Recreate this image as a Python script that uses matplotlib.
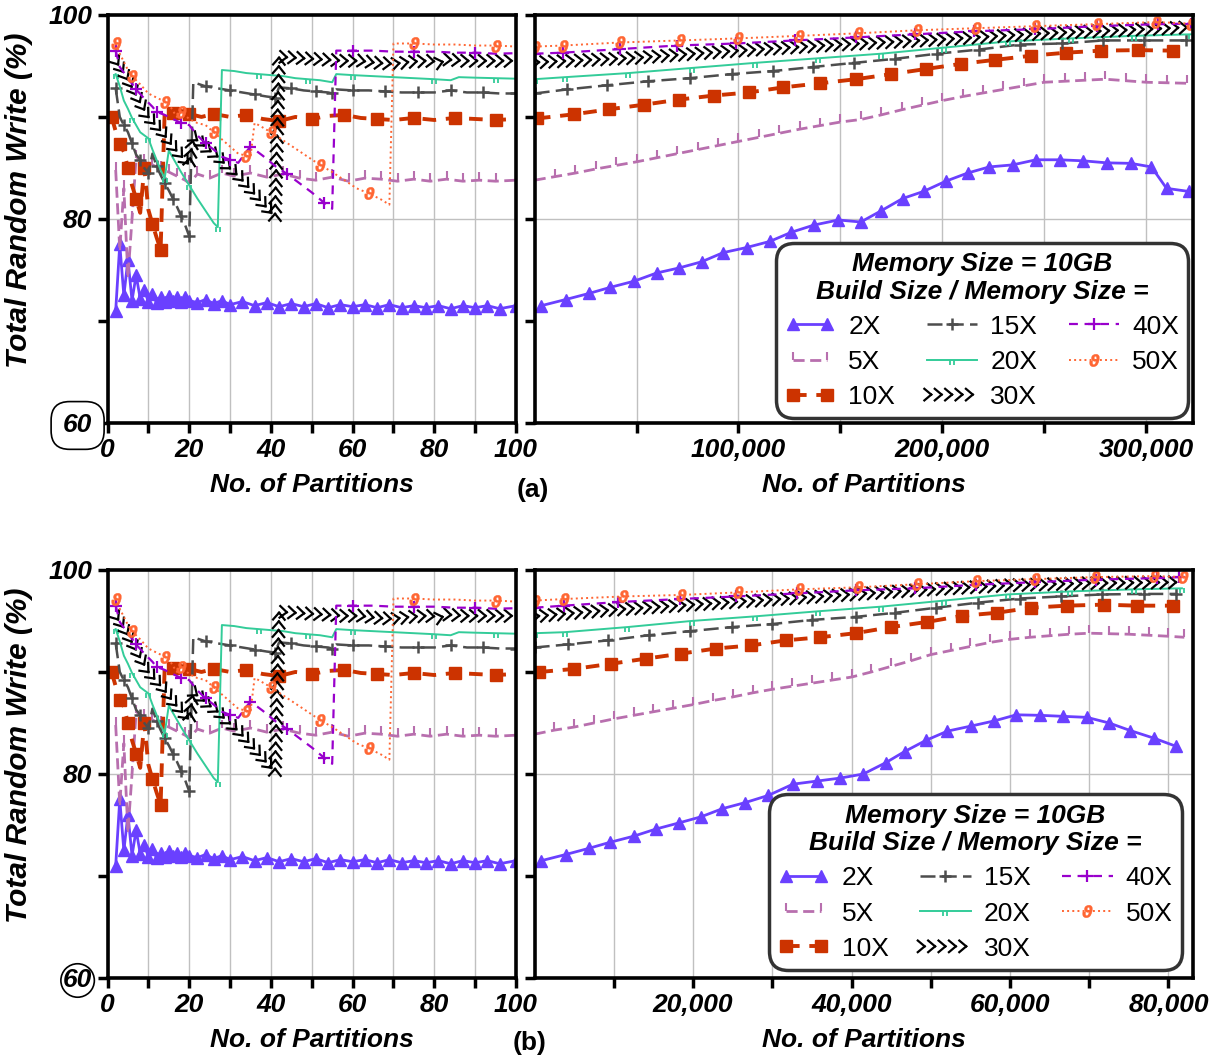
import matplotlib
matplotlib.use("Agg")
import matplotlib.pyplot as plt
import matplotlib.patheffects as pe
from matplotlib.path import Path
from matplotlib.legend_handler import HandlerLine2D
from matplotlib.font_manager import FontProperties

plt.rcParams['font.family'] = 'Liberation Sans'
plt.rcParams['font.weight'] = 'bold'
plt.rcParams['font.style'] = 'italic'

names = ['2X', '5X', '10X', '15X', '20X', '30X', '40X', '50X']

# --- left panels (0..100 partitions), same in (a) and (b) ---
left_x = {
    '2X': [2, 3, 4, 5, 6, 7, 8, 9, 10, 11, 12, 13, 14, 15, 16, 17, 18, 19, 20, 22, 24, 26, 28, 30,
           33, 36, 39, 42, 45, 48, 51, 54, 57, 60, 63, 66, 69, 72, 75, 78, 81, 84, 87, 90, 93, 96, 100],
    '5X': [2, 3, 4, 5, 6, 7, 9, 11, 13, 15, 17, 19, 20, 22, 25, 28, 31, 35, 39, 43, 47, 51, 55, 59,
           63, 67, 71, 75, 79, 83, 87, 91, 95, 100],
    '10X': [1, 2, 3, 4, 5, 6, 7, 8, 9, 10, 11, 12, 13, 14, 16, 18, 20, 23, 26, 30, 34, 38, 42, 46,
            50, 54, 58, 62, 66, 70, 75, 80, 85, 90, 95, 100],
    '15X': [2, 3, 4, 5, 6, 7, 8, 9, 10, 11, 12, 13, 14, 15, 16, 17, 18, 19, 20, 21, 24, 27, 30, 33,
            36, 39, 41, 42, 45, 48, 51, 54, 55, 56, 60, 64, 68, 72, 76, 80, 84, 88, 92, 96, 100],
    '20X': [2, 3, 4, 5, 6, 7, 8, 9, 10, 11, 12, 13, 14, 15, 16, 18, 20, 22, 24, 26, 27, 28, 31, 34,
            37, 40, 43, 46, 49, 52, 55, 56, 60, 65, 70, 75, 80, 84, 86, 90, 95, 100],
    '30X': [2, 4, 6, 8, 10, 12, 14, 16, 18, 20, 21, 23, 25, 27, 29, 31, 33, 35, 37, 39, 41, 42, 46,
            50, 54, 58, 62, 66, 70, 74, 78, 82, 84, 88, 92, 96, 100],
    '40X': [2, 3, 5, 7, 9, 11, 12, 14, 16, 18, 20, 22, 24, 26, 28, 30, 32, 34, 35, 38, 41, 44, 47,
            50, 53, 55, 56, 60, 65, 70, 75, 80, 85, 90, 95, 100],
    '50X': [2, 3, 4, 5, 6, 8, 10, 12, 14, 15, 16, 17, 18, 20, 22, 24, 26, 28, 30, 32, 34, 35, 36,
            37, 40, 43, 46, 49, 52, 55, 58, 61, 64, 67, 69, 70, 75, 80, 85, 90, 95, 100],
}
left_y = {
    '2X': [71.0, 77.5, 72.5, 76.0, 72.0, 74.5, 72.2, 73.0, 71.9, 72.6, 71.8, 72.3, 71.9, 72.4, 72.0,
           72.3, 71.9, 72.3, 72.0, 71.8, 72.1, 71.7, 72.0, 71.6, 71.9, 71.5, 71.8, 71.4, 71.7, 71.4,
           71.7, 71.3, 71.6, 71.4, 71.6, 71.3, 71.6, 71.3, 71.5, 71.3, 71.5, 71.2, 71.5, 71.3, 71.5,
           71.2, 71.5],
    '5X': [84.8, 77.0, 83.0, 74.3, 80.0, 86.0, 85.6, 85.3, 84.9, 84.6, 84.2, 83.8, 83.5, 84.4, 84.0,
           84.5, 84.2, 84.5, 84.1, 84.4, 84.0, 83.8, 84.1, 83.7, 84.0, 83.9, 83.7, 83.9, 83.7, 83.9,
           83.7, 83.8, 83.7, 83.8],
    '10X': [90.0, 88.6, 87.3, 86.6, 85.0, 83.3, 82.0, 80.6, 85.0, 80.9, 79.5, 78.2, 77.0, 90.6, 90.4,
            90.6, 90.3, 90.0, 90.3, 90.0, 90.2, 89.8, 89.6, 90.0, 89.8, 90.1, 90.2, 89.9, 89.8, 89.7,
            89.9, 89.7, 89.9, 89.8, 89.7, 89.8],
    '15X': [92.8, 90.0, 89.2, 88.5, 87.4, 86.3, 85.8, 85.0, 84.5, 86.4, 85.2, 84.3, 83.5, 82.8, 82.0,
            81.2, 80.3, 79.4, 78.3, 93.4, 93.0, 92.8, 92.6, 92.4, 92.2, 92.0, 91.9, 92.9, 92.8, 92.6,
            92.5, 92.4, 92.3, 92.7, 92.6, 92.6, 92.5, 92.4, 92.4, 92.4, 92.6, 92.4, 92.4, 92.3, 92.3],
    '20X': [94.2, 93.0, 91.6, 90.8, 89.9, 89.2, 88.5, 88.2, 87.9, 86.8, 85.8, 84.8, 84.0, 86.7, 86.0,
            84.6, 83.3, 82.0, 80.8, 79.6, 79.2, 94.6, 94.5, 94.3, 94.2, 94.1, 94.0, 93.8, 93.7, 93.6,
            93.4, 94.2, 94.1, 94.0, 93.9, 93.8, 93.7, 93.6, 93.9, 93.85, 93.8, 93.75],
    '30X': [95.5, 94.3, 92.9, 91.4, 90.0, 89.1, 88.2, 87.1, 86.2, 85.3, 88.0, 87.4, 86.7, 86.1, 85.3,
            84.6, 83.8, 82.9, 82.0, 81.1, 80.2, 95.9, 95.8, 95.7, 95.6, 95.5, 95.5, 95.3, 95.2, 95.4,
            95.5, 95.4, 95.6, 95.5, 95.5, 95.5, 95.5],
    '40X': [96.5, 94.9, 93.8, 92.7, 91.8, 91.0, 90.5, 90.2, 89.8, 89.4, 89.2, 88.2, 87.4, 86.8, 86.1,
            85.8, 85.5, 86.6, 87.1, 86.2, 85.2, 84.4, 83.5, 82.6, 81.6, 81.0, 96.5, 96.5, 96.5, 96.4,
            96.4, 96.4, 96.3, 96.3, 96.2, 96.25],
    '50X': [97.2, 96.2, 95.4, 94.6, 94.0, 93.2, 92.3, 91.9, 91.5, 91.3, 90.6, 90.0, 90.5, 89.8, 89.4,
            89.2, 88.5, 87.8, 87.1, 86.4, 86.2, 86.1, 89.4, 89.2, 88.5, 87.7, 86.9, 86.1, 85.3, 84.6,
            83.8, 83.0, 82.5, 81.9, 81.4, 97.2, 97.2, 97.1, 97.1, 97.0, 97.0, 96.9],
}

# --- right panel of (a): up to ~320,000 partitions ---
a_x = {
    '2X': [3300, 15200, 26700, 37200, 48800, 59800, 70900, 81900, 92500, 104000, 115400, 126000,
           137000, 149000, 160000, 170000, 180500, 190800, 201700, 212400, 223000, 234500, 246000,
           257500, 269000, 280700, 292500, 302600, 310000, 320800],
    '5X': [0, 10000, 20000, 30000, 40000, 50000, 60000, 70000, 80000, 90000, 100000, 110000, 120000,
           130000, 140000, 150000, 160000, 170000, 180000, 190000, 200000, 210000, 220000, 230000,
           240000, 250000, 260000, 270000, 280000, 290000, 300000, 310000, 320000],
    '10X': [1100, 19300, 36500, 53600, 70800, 88000, 105000, 122000, 140000, 157700, 175000, 192000,
            209000, 226000, 243600, 260700, 278000, 296000, 313000],
    '15X': [0, 16000, 35400, 55800, 76000, 96600, 117000, 136700, 156700, 177000, 197400, 217800,
            238000, 258600, 279000, 299000, 319700],
    '20X': [0, 15000, 46000, 77000, 108000, 139000, 170000, 201000, 232000, 263000, 294000, 322000],
    '30X': [0, 50000, 100000, 150000, 200000, 250000, 300000, 322000],
    '40X': [0, 14000, 41800, 69700, 98700, 127700, 157700, 186700, 215700, 245700, 275800, 305800,
            322000],
    '50X': [0, 14000, 42000, 71500, 99800, 129800, 158800, 187800, 216700, 245700, 275800, 304700,
            322000],
}
a_y = {
    '2X': [71.5, 72.1, 72.7, 73.3, 73.9, 74.7, 75.2, 75.8, 76.7, 77.2, 77.8, 78.7, 79.4, 79.9, 79.7,
           80.8, 82.0, 82.7, 83.7, 84.5, 85.1, 85.3, 85.8, 85.8, 85.7, 85.5, 85.45, 85.1, 83.0, 82.7],
    '5X': [83.8, 84.15, 84.5, 84.9, 85.25, 85.6, 86.0, 86.4, 86.8, 87.2, 87.6, 88.0, 88.4, 88.8,
           89.15, 89.5, 89.75, 90.2, 90.7, 91.15, 91.6, 92.0, 92.35, 92.7, 93.05, 93.4, 93.5, 93.6,
           93.7, 93.55, 93.4, 93.35, 93.3],
    '10X': [89.85, 90.26, 90.75, 91.2, 91.7, 92.1, 92.4, 92.9, 93.3, 93.7, 94.2, 94.7, 95.2, 95.6,
            96.0, 96.3, 96.5, 96.55, 96.5],
    '15X': [92.3, 92.7, 93.1, 93.5, 93.8, 94.2, 94.5, 94.9, 95.3, 95.7, 96.2, 96.6, 97.1, 97.2, 97.5,
            97.5, 97.5],
    '20X': [93.7, 93.9, 94.3, 94.8, 95.3, 95.75, 96.2, 96.8, 97.4, 97.7, 97.95, 98.1],
    '30X': [95.35, 95.8, 96.5, 97.1, 97.6, 98.2, 98.6, 98.8],
    '40X': [96.2, 96.3, 96.65, 97.0, 97.2, 97.5, 97.8, 98.1, 98.4, 98.6, 98.9, 99.1, 99.15],
    '50X': [96.9, 97.0, 97.3, 97.5, 97.7, 97.95, 98.2, 98.5, 98.7, 98.9, 99.1, 99.3, 99.15],
}

# --- right panel of (b): up to ~82,000 partitions ---
b_x = {
    '2X': [850, 3900, 6800, 9500, 12500, 15300, 18200, 21000, 23700, 26600, 29500, 32600, 35600,
           38600, 41500, 44300, 46700, 49400, 52100, 55100, 58000, 60800, 63800, 66700, 69700, 72500,
           75200, 78200, 81000],
    '5X': [0, 2500, 5000, 7500, 10000, 12500, 15000, 17500, 20000, 22500, 25000, 27500, 30000, 32500,
           35000, 37500, 40000, 42500, 45000, 47500, 50000, 52500, 55000, 57500, 60000, 62500, 65000,
           67500, 70000, 72500, 75000, 77500, 80000, 82000],
    '10X': [600, 5000, 9600, 14000, 18500, 22900, 27300, 31700, 36000, 40500, 45000, 49500, 53900,
            58300, 62700, 67200, 71800, 76000, 80600],
    '15X': [0, 4200, 9300, 14400, 19600, 24900, 30000, 35000, 40500, 45500, 50700, 56000, 61200,
            66400, 71600, 76900, 81000],
    '20X': [0, 3800, 11700, 19800, 27800, 35800, 43700, 51700, 59700, 67600, 75700, 81700],
    '30X': [0, 10000, 20000, 30000, 40000, 50000, 60000, 70000, 81500],
    '40X': [0, 3700, 10500, 18300, 25400, 33100, 40500, 48000, 55700, 63100, 70800, 78500, 81300],
    '50X': [0, 3700, 11100, 18500, 25700, 33400, 40800, 48300, 55700, 63200, 70700, 78200, 81800],
}
b_y = {
    '2X': [71.5, 72.1, 72.7, 73.3, 73.9, 74.6, 75.2, 75.8, 76.6, 77.2, 77.9, 79.0, 79.3, 79.6, 80.0,
           81.1, 82.2, 83.3, 84.2, 84.7, 85.2, 85.8, 85.75, 85.65, 85.55, 85.0, 84.25, 83.5, 82.7],
    '5X': [83.9, 84.3, 84.6, 85.0, 85.4, 85.75, 86.1, 86.45, 86.8, 87.2, 87.55, 87.95, 88.3, 88.6,
           88.9, 89.2, 89.5, 90.0, 90.55, 91.1, 91.7, 92.1, 92.5, 92.9, 93.2, 93.4, 93.55, 93.7, 93.8,
           93.75, 93.7, 93.6, 93.5, 93.4],
    '10X': [90.0, 90.3, 90.8, 91.3, 91.8, 92.3, 92.6, 93.1, 93.4, 93.8, 94.4, 94.9, 95.5, 95.8, 96.3,
            96.5, 96.6, 96.5, 96.5],
    '15X': [92.4, 92.7, 93.1, 93.6, 94.0, 94.4, 94.7, 95.1, 95.4, 95.8, 96.3, 96.8, 97.2, 97.4, 97.6,
            97.65, 97.65],
    '20X': [93.8, 93.9, 94.4, 95.0, 95.45, 95.95, 96.4, 97.0, 97.6, 97.9, 98.1, 98.2],
    '30X': [95.45, 96.1, 96.6, 97.1, 97.6, 98.1, 98.5, 98.7, 98.8],
    '40X': [96.3, 96.5, 96.85, 97.15, 97.4, 97.7, 98.0, 98.2, 98.55, 98.8, 99.05, 99.2, 99.3],
    '50X': [97.0, 97.15, 97.4, 97.55, 97.8, 98.1, 98.3, 98.6, 98.9, 99.1, 99.3, 99.4, 99.3],
}

# --- styles ---
ii = Path([(-0.4, -1), (-0.4, 0), (0.4, -1), (0.4, 0)],
          [Path.MOVETO, Path.LINETO, Path.MOVETO, Path.LINETO])
chev = [pe.TickedStroke(spacing=6.2, angle=140, length=1.05),
        pe.TickedStroke(spacing=6.2, angle=-140, length=1.05)]
styles = {
    '2X': dict(color='#6a40ff', ls='-', lw=2.0, marker='^', ms=8),
    '5X': dict(color='#b86fae', ls=(0, (4, 2)), lw=2.0, marker=2, ms=6, mew=1.5),
    '10X': dict(color='#cc3300', ls=(0, (3.5, 2.5)), lw=2.8, marker='s', ms=9),
    '15X': dict(color='#4d4d4d', ls=(0, (6, 2.5)), lw=1.8, marker='+', ms=9, mew=1.8),
    '20X': dict(color='#33cc99', ls='-', lw=1.4, marker=ii, ms=7, mew=1.3),
    '30X': dict(color='black', ls='-', lw=1.6, path_effects=chev),
    '40X': dict(color='#9900cc', ls=(0, (4, 3)), lw=1.6, marker='+', ms=8, mew=1.6),
    '50X': dict(color='#ff6633', ls=':', lw=1.4, marker=r'$\vartheta$', ms=9, mew=0.3),
}
left_every = {'2X': 1, '5X': 1, '10X': 2, '15X': 2, '20X': 4, '30X': 1, '40X': 3, '50X': 4}

grid_c = '#c0c0c0'
fs = 19
lab = dict(fontsize=fs, fontweight='bold', fontstyle='italic')


def style_axes(ax):
    for s in ax.spines.values():
        s.set_linewidth(2.6)
    ax.tick_params(which='both', direction='out', length=7, width=2.5, labelsize=fs, pad=4)
    ax.set_ylim(60, 100)
    ax.set_yticks([60, 80, 100])
    ax.set_yticks([70, 90], minor=True)
    ax.grid(True, axis='x', which='both', color=grid_c, lw=1)
    ax.grid(True, axis='y', which='major', color=grid_c, lw=1)
    ax.set_axisbelow(True)


def draw_left(ax, box):
    for n in names:
        ax.plot(left_x[n], left_y[n], markevery=left_every[n], **styles[n])
    style_axes(ax)
    ax.set_xlim(0, 100)
    ax.set_xticks([0, 20, 40, 60, 80, 100])
    ax.set_xticks([10, 30, 50, 70, 90], minor=True)
    ax.set_xlabel('No. of Partitions', labelpad=8, **lab)
    ax.set_ylabel('Total Random Write (%)', fontsize=21.5, fontweight='bold', fontstyle='italic')
    ax.yaxis.set_label_coords(-0.182, 0.545)
    ax.yaxis.get_major_ticks()[0].label1.set_bbox(box)


def draw_right(ax, xs, ys, xmax, major, minor, labels, anchor):
    lines = []
    for n in names:
        ln, = ax.plot(xs[n], ys[n], **styles[n])
        lines.append(ln)
    style_axes(ax)
    ax.set_xlim(0, xmax)
    ax.set_xticks(major, labels)
    ax.set_xticks(minor, minor=True)
    ax.set_yticklabels([])
    ax.set_xlabel('No. of Partitions', labelpad=8, **lab)
    two = HandlerLine2D(numpoints=2)
    leg = ax.legend(lines, names, ncol=3, loc='lower right', bbox_to_anchor=anchor,
                    borderaxespad=0, frameon=True, fancybox=True, framealpha=1,
                    edgecolor='#333333',
                    prop=FontProperties(family='Liberation Sans', size=fs, weight='normal',
                                        style='normal'),
                    title='Memory Size = 10GB\nBuild Size / Memory Size =',
                    title_fontproperties=FontProperties(family='Liberation Sans', size=fs,
                                                        weight='bold', style='italic'),
                    handlelength=1.9, handletextpad=0.5, columnspacing=1.2,
                    labelspacing=0.42, borderpad=0.35, numpoints=1,
                    handler_map={lines[0]: two, lines[1]: two, lines[2]: two})
    title = leg.get_title()
    title.set_linespacing(1.2)
    title.set_multialignment('center')
    fr = leg.get_frame()
    fr.set_linewidth(2.5)
    fr.set_boxstyle('round', pad=0, rounding_size=0.7)


fig = plt.figure(figsize=(12.19, 10.59), dpi=100)
axes_w = [0.0882, 0.3351, 0.4386, 0.5401]

ax1 = fig.add_axes([axes_w[0], 0.6006, axes_w[1], 0.3853])
ax2 = fig.add_axes([axes_w[2], 0.6006, axes_w[3], 0.3853])
ax3 = fig.add_axes([axes_w[0], 0.0765, axes_w[1], 0.3853])
ax4 = fig.add_axes([axes_w[2], 0.0765, axes_w[3], 0.3853])

draw_left(ax1, dict(boxstyle='round,pad=0.45,rounding_size=0.7', fc='white', ec='black', lw=1.2))
draw_left(ax3, dict(boxstyle='circle,pad=0.08', fc='white', ec='black', lw=1.2))

draw_right(ax2, a_x, a_y, 323000, [100000, 200000, 300000], [50000, 150000, 250000],
           ['100,000', '200,000', '300,000'], (0.993, 0.012))
draw_right(ax4, b_x, b_y, 83100, [20000, 40000, 60000, 80000], [10000, 30000, 50000, 70000],
           ['20,000', '40,000', '60,000', '80,000'], (0.983, 0.02))

fig.text(533 / 1219, 1 - 490 / 1059, '(a)', ha='center', va='center', fontsize=fs,
         fontstyle='normal', fontweight='bold')
fig.text(530 / 1219, 1 - 1043 / 1059, '(b)', ha='center', va='center', fontsize=fs,
         fontstyle='normal', fontweight='bold')

fig.savefig('out.png', dpi=100)
